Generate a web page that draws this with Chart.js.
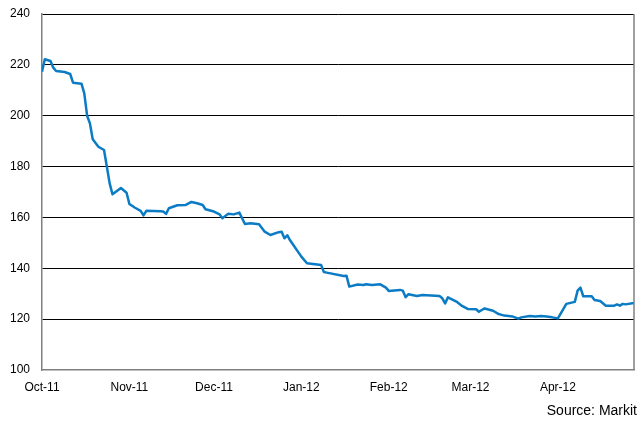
<!DOCTYPE html>
<html>
<head>
<meta charset="utf-8">
<script src="https://cdn.jsdelivr.net/npm/chart.js@4.4.1/dist/chart.umd.min.js"></script>
<style>
  html, body { margin: 0; padding: 0; background: #fff; }
  #wrap { width: 641px; height: 426px; position: relative; }
</style>
</head>
<body>
<div id="wrap"><canvas id="c" width="641" height="426"></canvas></div>
<script>
// Days since 1 Oct 2011
const days = [0,1,3,4,5,8,10,11,14,15,16,17,18,20,22,23,24,25,28,30,31,33,35,36,37,42,43,44,45,48,51,53,55,57,58,61,63,64,66,68,70,72,74,77,79,81,84,85,86,87,88,92,94,99,100,101,107,108,109,112,114,115,117,120,122,123,127,128,129,130,133,135,141,142,143,144,147,149,151,154,155,156,157,160,162,164,167,169,170,173,175,177,179,181,183,186,189,190,191,192,195,196,198,200,203,204,205,206,207,210];
const values = [217.3,222.2,221.5,218.9,217.6,217.2,216.4,213,212.6,208.8,200,197,190.7,187.8,186.5,180,173.4,169.1,171.6,169.7,165.3,163.8,162.6,160.8,162.6,162.4,162.3,161.4,163.6,164.8,164.9,166.1,165.6,164.9,163.2,162.3,161.2,159.7,161.4,161.2,161.9,157.4,157.7,157.3,154.4,153.1,154.2,154.4,151.8,153,151,144.6,142,141.3,138.5,138.3,137,137.1,132.8,133.6,133.4,133.7,133.4,133.7,132.4,131.1,131.5,131.2,128.6,129.8,129.1,129.5,129.1,128.2,126.2,128.6,126.9,125.2,124,123.9,122.9,123.6,124.2,123.3,122,121.4,121,120.2,120.7,121.2,121,121.2,121,120.7,120.3,126,126.8,131.2,132.4,129,129,127.5,127.1,125.3,125.3,125.8,125.3,126,125.8,126.4];
const monthTickDays = [0,31,61,92,123,152,183];
const monthLabels = ['Oct-11','Nov-11','Dec-11','Jan-12','Feb-12','Mar-12','Apr-12'];
const yTicks = [100,120,140,160,180,200,220,240];
const sourceText = 'Source: Markit';

const FONT = '"Liberation Sans", Arial, Helvetica, sans-serif';

const extras = {
  id: 'extras',
  afterDraw(chart) {
    const {ctx, chartArea} = chart;
    ctx.save();
    ctx.strokeStyle = '#808080';
    ctx.lineWidth = 1.5;
    ctx.beginPath();
    ctx.moveTo(chartArea.right, chartArea.top);
    ctx.lineTo(chartArea.right, chartArea.bottom);
    ctx.stroke();
    ctx.fillStyle = '#000';
    ctx.font = '14px ' + FONT;
    ctx.textAlign = 'right';
    ctx.textBaseline = 'alphabetic';
    ctx.fillText(sourceText, 637, 415);
    ctx.restore();
  }
};

new Chart(document.getElementById('c'), {
  type: 'line',
  data: {
    datasets: [{
      data: days.map((d, i) => ({x: d, y: values[i]})),
      borderColor: '#0a7bc4',
      borderWidth: 2.5,
      pointRadius: 0,
      tension: 0,
      borderJoinStyle: 'round',
      fill: false
    }]
  },
  options: {
    responsive: false,
    animation: false,
    devicePixelRatio: 1,
    layout: { autoPadding: false, padding: { top: 14, right: 7, left: 0, bottom: 0 } },
    plugins: { legend: { display: false }, tooltip: { enabled: false } },
    scales: {
      x: {
        type: 'linear',
        min: 0,
        max: 210,
        afterBuildTicks: s => { s.ticks = monthTickDays.map(v => ({value: v})); },
        afterFit: s => { s.height = 56; s.paddingLeft = 0; s.paddingRight = 0; },
        grid: { display: false, drawTicks: false },
        border: { display: true, color: '#808080', width: 1.5 },
        ticks: {
          autoSkip: false,
          maxRotation: 0,
          padding: 10,
          color: '#000',
          font: { family: FONT, size: 12 },
          callback: v => { const i = monthTickDays.indexOf(v); return i >= 0 ? monthLabels[i] : ''; }
        }
      },
      y: {
        min: 100,
        max: 240,
        afterBuildTicks: s => { s.ticks = yTicks.map(v => ({value: v})); },
        afterFit: s => { s.width = 42; s.paddingTop = 0; s.paddingBottom = 0; },
        grid: {
          drawTicks: false,
          color: c => (c.tick && c.tick.value === 100) ? 'rgba(0,0,0,0)' : '#000',
          lineWidth: 1
        },
        border: { display: true, color: '#808080', width: 1.5 },
        ticks: {
          padding: 12,
          color: '#000',
          font: { family: FONT, size: 12 }
        }
      }
    }
  },
  plugins: [extras]
});
</script>
</body>
</html>
